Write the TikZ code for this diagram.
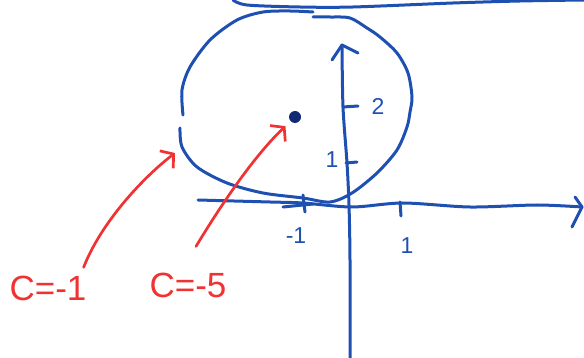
\documentclass[tikz,border=0pt]{standalone}
\usepackage{fontspec}
\setmainfont{Liberation Sans}
\usetikzlibrary{arrows.meta}
\definecolor{ink}{RGB}{30,80,178}
\definecolor{redink}{RGB}{240,50,50}
\definecolor{dotink}{RGB}{18,42,118}
\begin{document}
\begin{tikzpicture}[x=1pt,y=-1pt,
  bluestroke/.style={draw=ink, line width=3pt, line cap=round, line join=round},
  redarrow/.style={draw=redink, line width=2.7pt, line cap=round, line join=round,
    -{Straight Barb[length=9pt,width=22pt]}},
  numlabel/.style={text=ink, font=\fontsize{23}{23}\selectfont, inner sep=0pt},
  clabel/.style={text=redink, font=\fontsize{35}{35}\selectfont, inner sep=0pt}]
\useasboundingbox (0,0) rectangle (584,358);

% top line
\draw[bluestroke] plot[smooth] coordinates {(233,0) (247,5) (300,7) (353,7) (453,3) (520,1) (584,0)};

% circle (two strokes with gaps)
\draw[bluestroke] plot[smooth] coordinates {(313,12) (290,11) (263,12) (237,20) (210,40) (190,67) (182,90) (183,115)};
\draw[bluestroke] plot[smooth] coordinates {(180,128) (182,147) (197,167) (227,183) (263,193) (303,198) (330,202) (352,193) (377,173) (397,150) (407,127) (410,112) (412,97) (408,73) (397,53) (380,37) (367,28) (350,18) (330,17) (313,17)};
\draw[bluestroke] (283,207) -- (313,204);

% x axis
\draw[bluestroke] plot[smooth] coordinates {(198,200) (270,202) (303,203) (352,207) (403,203) (470,207) (537,205) (582,207)};
\draw[bluestroke] (575,197) -- (582,207) -- (572,227);
% y axis
\draw[bluestroke] plot[smooth] coordinates {(350,358) (350,260) (349,205) (347,163) (343,107) (342,45)};
\draw[bluestroke] (332,60) -- (342,45) -- (358,53);

% ticks
\draw[bluestroke] (303,195) -- (305,212);
\draw[bluestroke] (400,202) -- (401,216);
\draw[bluestroke] (343,107) -- (358,106);
\draw[bluestroke] (346,163) -- (357,162);

% tick labels
\node[numlabel] (xm1) at (296,236) {-1};
\node[numlabel] (xp1) at (407,246) {1};
\node[numlabel] (y2) at (378,106) {2};
\node[numlabel] (y1) at (332,160) {1};

% centre dot
\node[circle, fill=dotink, minimum size=12pt, inner sep=0pt] (dot) at (295,117) {};

% red labels and arrows
\node[clabel] (c1) at (48,288) {C=-1};
\node[clabel] (c5) at (188,285) {C=-5};
\coordinate (a1e) at (175,153);
\draw[redarrow] ([xshift=-3pt,yshift=8pt]c1.north east) .. controls (100,225) and (140,180) .. (a1e);
\draw[redarrow, shorten >=7pt] ([xshift=8pt,yshift=26pt]c5.north) .. controls (215,215) and (250,160) .. (dot);
\end{tikzpicture}
\end{document}
